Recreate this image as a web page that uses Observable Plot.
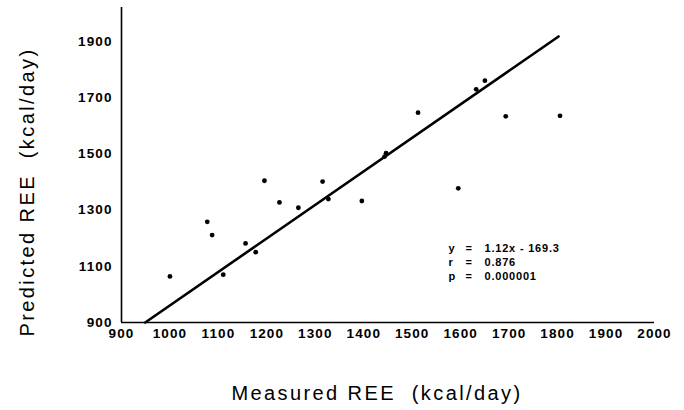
<!DOCTYPE html>
<html>
<head>
<meta charset="utf-8">
<script src="https://cdn.jsdelivr.net/npm/d3@7"></script>
<script src="https://cdn.jsdelivr.net/npm/@observablehq/plot@0.6"></script>
<style>
  html, body { margin: 0; padding: 0; background: white; }
</style>
</head>
<body>
<div id="chart"></div>
<script>
// Measured vs predicted REE (kcal/day)
const measured  = [1000, 1077, 1087, 1110, 1156, 1177, 1195, 1226, 1265, 1315, 1327, 1396, 1443, 1446, 1512, 1595, 1632, 1650, 1693, 1805];
const predicted = [1064, 1258, 1211, 1070, 1181, 1150, 1404, 1327, 1308, 1401, 1339, 1332, 1490, 1502, 1646, 1377, 1729, 1760, 1633, 1635];

// Regression line as drawn (endpoints)
const fitX = [949, 1802];
const fitY = [900, 1917];

// Tick labels
const xTicks = [900, 1000, 1100, 1200, 1300, 1400, 1500, 1600, 1700, 1800, 1900, 2000];
const yTicks = [900, 1100, 1300, 1500, 1700, 1900];

// Titles and annotation text
const xTitle = "Measured REE  (kcal/day)";
const yTitle = "Predicted REE  (kcal/day)";
const statSymbols = ["y", "r", "p"];
const statEquals = ["=", "=", "="];
const statValues = ["1.12x - 169.3", "0.876", "0.000001"];

const points = measured.map((m, i) => ({measured: m, predicted: predicted[i]}));
const fitLine = fitX.map((x, i) => ({x, y: fitY[i]}));

const plot = Plot.plot({
  width: 684,
  height: 410,
  marginLeft: 121,
  marginRight: 30,
  marginTop: 7,
  marginBottom: 88,
  x: {domain: [900, 2000]},
  y: {domain: [900, 2020]},
  style: {
    fontFamily: "'Liberation Sans', Arial, sans-serif",
    fontSize: "13px",
    color: "black",
    background: "white",
    overflow: "visible"
  },
  marks: [
    Plot.axisX({ticks: xTicks, tickSize: 0, tickPadding: 6, label: null, tickFormat: d => String(d), fontSize: 13.5, fontWeight: "bold"}),
    Plot.axisY({ticks: yTicks, tickSize: 0, tickPadding: 9, label: null, tickFormat: d => String(d), fontSize: 13.5, fontWeight: "bold"}),
    Plot.ruleY([900], {x1: 900, x2: 2000, stroke: "black", strokeWidth: 1.6}),
    Plot.ruleX([900], {y1: 900, y2: 2020, stroke: "black", strokeWidth: 1.6}),
    Plot.line(fitLine, {x: "x", y: "y", stroke: "black", strokeWidth: 2.6}),
    Plot.dot(points, {x: "measured", y: "predicted", r: 2.4, fill: "black", stroke: null}),
    Plot.text([xTitle], {text: d => d, frameAnchor: "bottom", textAnchor: "middle", lineAnchor: "middle", dx: -11, dy: 71, fontSize: 20}),
    Plot.text([yTitle], {text: d => d, frameAnchor: "left", rotate: -90, textAnchor: "middle", lineAnchor: "middle", dx: -94, dy: 27, fontSize: 20}),
    Plot.text([statSymbols.join("\n")], {text: d => d, frameAnchor: "top-left", textAnchor: "start", lineAnchor: "top", dx: 327, dy: 235, fontSize: 11, fontWeight: "bold", lineHeight: 1.27}),
    Plot.text([statEquals.join("\n")], {text: d => d, frameAnchor: "top-left", textAnchor: "start", lineAnchor: "top", dx: 344, dy: 235, fontSize: 11, fontWeight: "bold", lineHeight: 1.27}),
    Plot.text([statValues.join("\n")], {text: d => d, frameAnchor: "top-left", textAnchor: "start", lineAnchor: "top", dx: 363, dy: 235, fontSize: 11, fontWeight: "bold", lineHeight: 1.27})
  ]
});

document.getElementById("chart").appendChild(plot);

// Letter spacing tweaks to mimic the typewriter-like lettering
const svg = d3.select(plot);
svg.selectAll('g[aria-label="x-axis tick label"] text, g[aria-label="y-axis tick label"] text')
  .style("letter-spacing", "1.1px");
svg.selectAll("text").each(function() {
  const t = this.textContent;
  if (t.includes("REE")) d3.select(this).style("letter-spacing", "2.4px");
  if (t.includes("169.3") || t.includes("0.876")) d3.select(this).style("letter-spacing", "0.8px");
});
</script>
</body>
</html>
